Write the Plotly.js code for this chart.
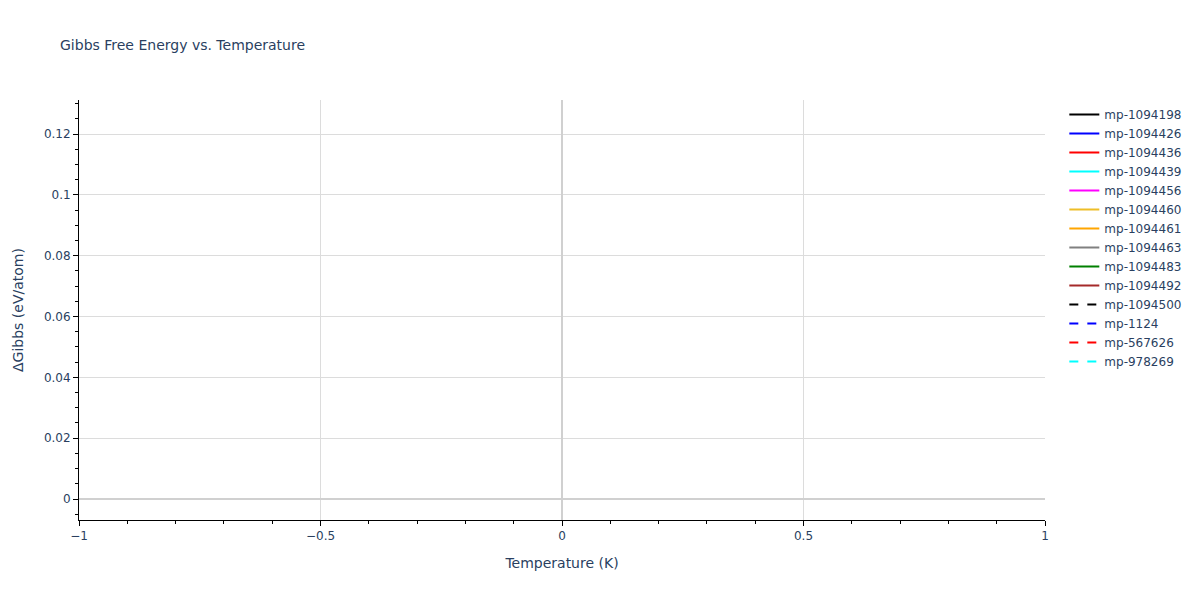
<!DOCTYPE html>
<html>
<head>
<meta charset="utf-8">
<script src="https://cdn.plot.ly/plotly-3.0.1.min.js"></script>
<style>
  body { margin: 0; }
  #main { width: 1200px; height: 600px; }
</style>
</head>
<body>
<div id="main"></div>
<script>
// one point per material at T = 0 K, so no line segment is drawn
const materials = [
  'mp-1094198', 'mp-1094426', 'mp-1094436', 'mp-1094439', 'mp-1094456',
  'mp-1094460', 'mp-1094461', 'mp-1094463', 'mp-1094483', 'mp-1094492',
  'mp-1094500', 'mp-1124', 'mp-567626', 'mp-978269'
]
const temperatures = [0]
const deltaGibbs = [
  [0.0412], [0.0538], [0.0655], [0.0297], [0.0871],
  [0.0764], [0.1018], [0.0943], [0.1124], [0.1243],
  [0.0186], [0], [0.0089], [0.0472]
]
const colors = [
  'black', 'blue', 'red', 'cyan', 'magenta',
  'rgb(238,190,40)', 'orange', 'grey', 'green', 'brown',
  'black', 'blue', 'red', 'cyan'
]
const dashes = [
  'solid', 'solid', 'solid', 'solid', 'solid',
  'solid', 'solid', 'solid', 'solid', 'solid',
  'dash', 'dash', 'dash', 'dash'
]

const plotData = []
materials.forEach((name, i) => {
  plotData.push({
    x: temperatures,
    y: deltaGibbs[i],
    type: 'scatter',
    mode: 'lines',
    name: name,
    line: { color: colors[i], dash: dashes[i], width: 2 },
  })
})

const axisStyle = {
  showline: true,
  linecolor: 'black',
  linewidth: 1,
  ticks: 'outside',
  ticklen: 5,
  tickcolor: 'black',
  gridcolor: '#dcdcdc',
  zerolinecolor: '#d0d0d0',
  zerolinewidth: 2,
}

Plotly.newPlot('main', plotData, {
  width: 1200,
  height: 600,
  font: { family: 'DejaVu Sans, Verdana, sans-serif', size: 12, color: '#2a3f5f' },
  title: { text: 'Gibbs Free Energy vs. Temperature', font: { size: 14 }, x: 0.05, xanchor: 'left' },
  paper_bgcolor: 'white',
  plot_bgcolor: 'white',
  margin: { l: 79, r: 155, t: 100, b: 80 },
  xaxis: Object.assign({}, axisStyle, {
    title: { text: 'Temperature (K)', font: { size: 14 }, standoff: 15 },
    dtick: 0.5,
    minor: { ticks: 'outside', ticklen: 3, tickcolor: 'black', dtick: 0.1, showgrid: false },
  }),
  yaxis: Object.assign({}, axisStyle, {
    title: { text: 'ΔGibbs (eV/atom)', font: { size: 14 }, standoff: 16 },
    dtick: 0.02,
    minor: { ticks: 'outside', ticklen: 3, tickcolor: 'black', dtick: 0.005, showgrid: false },
  }),
  legend: { font: { size: 12 } },
}, { displayModeBar: false })
</script>
</body>
</html>
